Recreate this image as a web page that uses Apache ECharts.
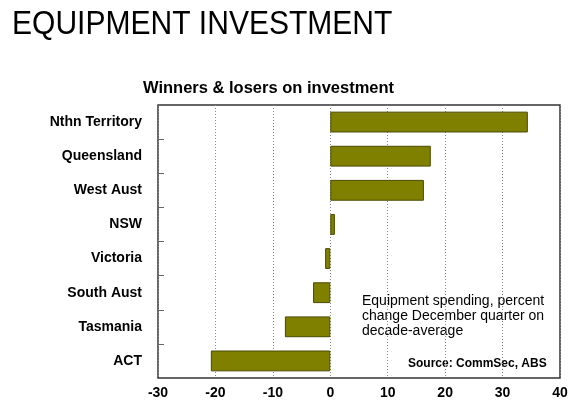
<!DOCTYPE html>
<html><head><meta charset="utf-8">
<script src="https://cdn.jsdelivr.net/npm/echarts@6/dist/echarts.min.js"></script>
<style>html,body{margin:0;padding:0;background:#fff}#c{width:580px;height:416px}</style>
</head><body><div id="c"></div>
<script>
const categories = ["Nthn Territory","Queensland","West Aust","NSW","Victoria","South Aust","Tasmania","ACT"];
const values = [34.4, 17.5, 16.3, 0.8, -0.9, -3.0, -7.9, -20.8];
const xMin = -30, xMax = 40, xStep = 10;
const chart = echarts.init(document.getElementById('c'));
chart.setOption({
  animation:false,
  backgroundColor:'#fff',
  title:[
    {text:'Winners & losers on investment', left:138, top:75, textStyle:{fontFamily:'Liberation Sans', fontWeight:'bold', fontSize:16.5, color:'#000'}}
  ],
  graphic:[
    {type:'text', x:12, y:8, scaleX:0.91, style:{text:'EQUIPMENT INVESTMENT', font:'33px "Liberation Sans"', fill:'#000'}},
    {type:'text', left:362, top:294, style:{text:'Equipment spending, percent\nchange December quarter on\ndecade-average', font:'14px "Liberation Sans"', fill:'#000', lineHeight:15}},
    {type:'text', left:408, top:358, style:{text:'Source: CommSec, ABS', font:'bold 12px "Liberation Sans"', fill:'#000'}}
  ],
  grid:{left:158, right:20, top:105, bottom:38, show:true, borderColor:'#333', borderWidth:1.5, backgroundColor:'transparent'},
  xAxis:{type:'value', min:xMin, max:xMax, interval:xStep,
    axisLine:{show:false}, axisTick:{show:false},
    axisLabel:{fontFamily:'Liberation Sans', fontWeight:'bold', fontSize:14, color:'#000', margin:8},
    splitLine:{show:true, lineStyle:{type:[1,2], color:'#888', width:1}}},
  yAxis:{type:'category', inverse:true, data:categories,
    axisLine:{show:false, onZero:false},
    axisTick:{show:true, inside:true, length:6, lineStyle:{color:'#666'}},
    axisLabel:{fontFamily:'Liberation Sans', fontWeight:'bold', fontSize:14, color:'#000', margin:16},
    splitLine:{show:false}},
  series:[{type:'bar', data:values, barWidth:'61%',
    itemStyle:{color:'#808000', borderColor:'#4a4a00', borderWidth:1}}]
});
</script></body></html>
